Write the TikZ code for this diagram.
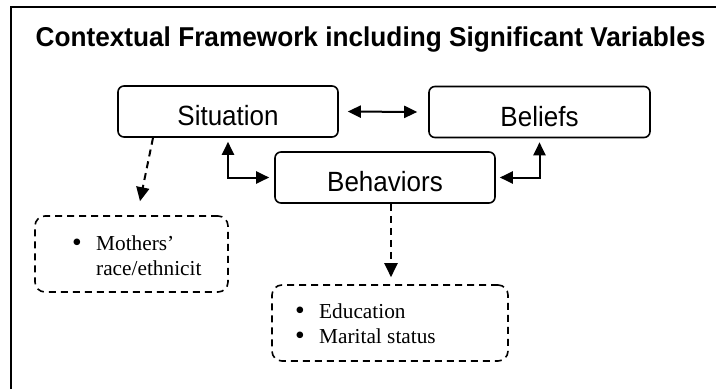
\documentclass[tikz,border=0pt]{standalone}
\usepackage{fontspec}
\setmainfont{Liberation Serif}
\newfontfamily\arialfont{Liberation Sans}
\usetikzlibrary{arrows.meta}

% list bullet: a slightly enlarged round dot
\newcommand{\bigdot}{\makebox[24pt][l]{\raisebox{-1.8pt}{\scalebox{1.3}{•}}}}

\begin{document}
\begin{tikzpicture}[x=1pt,y=-1pt,
  mainbox/.style={draw, line width=1.6pt, rounded corners=6pt,
    minimum height=51pt, inner sep=0pt,
    font=\arialfont\fontsize{26}{30}\selectfont,
    text height=28pt, text depth=0pt},
  dbox/.style={draw, line width=1.6pt, dash pattern=on 7pt off 5pt,
    rounded corners=10pt, minimum height=76pt, inner sep=0pt},
  listtext/.style={inner sep=0pt, anchor=base west,
    font=\fontsize{21.3}{25}\selectfont},
  link/.style={line width=2pt,
    {Triangle[length=13pt,width=12pt]}-{Triangle[length=13pt,width=12pt]}},
  dlink/.style={line width=2pt, dash pattern=on 7pt off 5pt,
    -{Triangle[length=14pt,width=13pt]}}
]
\useasboundingbox (0,0) rectangle (716,389);

% outer frame (only the top and left sides fall inside the page)
\draw[line width=2.2pt] (11,389) -- (11,7) -- (716,7);

% heading
\node[font=\arialfont\bfseries\fontsize{26.2}{30}\selectfont,
  anchor=base, inner sep=0pt] (title) at (370.5,46)
  {\scalebox{1}[1.04]{Contextual Framework including Significant Variables}};

% the three framework boxes
\node[mainbox, minimum width=220pt] (sit) at (228,111.5) {\scalebox{1}[1.07]{Situation}};
\node[mainbox, minimum width=221pt] (bel) at (539.5,112) {\scalebox{1}[1.07]{Beliefs}};
\node[mainbox, minimum width=220pt] (beh) at (385,177.5) {\scalebox{1}[1.07]{Behaviors}};

% variable boxes
\node[dbox, minimum width=193pt] (d1) at (131.5,254) {};
\node[dbox, minimum width=236pt] (d2) at (390,323) {};

\node[listtext] (d1t) at (72,250)
  {\begin{tabular}[t]{@{}l@{}}\bigdot Mothers’\\
   \hspace*{24pt}race/ethnicit\end{tabular}};
\node[listtext] (d2t) at (295,318)
  {\begin{tabular}[t]{@{}l@{}}\bigdot Education\\
   \bigdot Marital status\end{tabular}};

% relations between the boxes
\draw[link] ([xshift=9pt]sit.east) -- ([xshift=-11pt]bel.west);
\draw[link] ([yshift=-4pt]sit.south) |- ([xshift=-5pt]beh.west);
\draw[link] ([yshift=-4pt]bel.south) |- ([xshift=4pt]beh.east);

% links to the variables
\draw[dlink] ([xshift=-75pt]sit.south) -- ([xshift=8.5pt,yshift=14pt]d1.north);
\draw[dlink] ([xshift=6pt]beh.south) -- ([xshift=1pt,yshift=7pt]d2.north);
\end{tikzpicture}
\end{document}
